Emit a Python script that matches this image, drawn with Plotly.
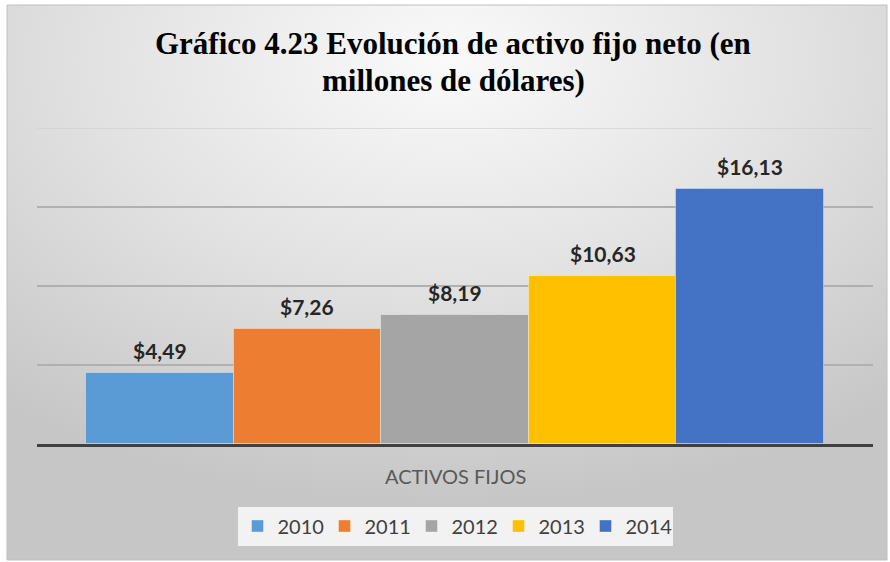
import base64
import plotly.graph_objects as go

# ---- data ----
years = ["2010", "2011", "2012", "2013", "2014"]
values = [4.49, 7.26, 8.19, 10.63, 16.13]
colors = ["#5B9BD5", "#ED7D31", "#A5A5A5", "#FFC000", "#4472C4"]
grid_values = [5, 10, 15, 20]
category_label = "ACTIVOS FIJOS"
title_lines = ["Gráfico 4.23 Evolución de activo fijo neto (en", "millones de dólares)"]

W, H = 890, 562
ML, MR, MT, MB = 37, 17, 128, 118
PW, PH = W - ML - MR, H - MT - MB


def px_x(px):
    return (px - ML) / PW


def px_y(py):
    return (H - MB - py) / PH


fig = go.Figure()
for yr, v, c in zip(years, values, colors):
    fig.add_trace(go.Bar(
        x=[yr], y=[v], name=yr,
        marker=dict(color=c, line=dict(color="rgba(255,255,255,0.35)", width=1)),
        width=1.0,
        hoverinfo="skip",
    ))

annotations = []
for i, v in enumerate(values):
    annotations.append(dict(
        x=i, y=v, xref="x", yref="y", text="<b>$" + f"{v:.2f}".replace(".", ",") + "</b>",
        showarrow=False, yanchor="bottom", yshift=8,
        font=dict(family="Lato", size=21, color="#262626"),
    ))

annotations.append(dict(
    x=0.5, y=px_y(476), xref="paper", yref="paper", text=category_label,
    showarrow=False, yanchor="middle", xanchor="center",
    font=dict(family="Lato", size=20, color="#595959"),
))
for line, py in zip(title_lines, [44, 80]):
    annotations.append(dict(
        x=px_x(453), y=px_y(py), xref="paper", yref="paper", text="<b>" + line + "</b>",
        showarrow=False, yanchor="middle", xanchor="center",
        font=dict(family="Liberation Serif, Times New Roman, serif", size=31, color="#000000"),
    ))

svg = """<svg xmlns='http://www.w3.org/2000/svg' width='880' height='555' preserveAspectRatio='none'>
<defs><radialGradient id='g' cx='0.5' cy='0.1' r='0.8' fx='0.5' fy='0.1'>
<stop offset='0' stop-color='#fafafa'/><stop offset='0.5' stop-color='#e2e2e2'/><stop offset='1' stop-color='#c6c6c6'/>
</radialGradient></defs><rect width='880' height='555' fill='url(#g)'/></svg>"""
src = "data:image/svg+xml;base64," + base64.b64encode(svg.encode()).decode()

x0, x1, y0, y1 = 7, 887, 5, 560
shapes = [dict(
    type="rect", xref="paper", yref="paper",
    x0=px_x(x0), x1=px_x(x1), y0=px_y(y1), y1=px_y(y0),
    line=dict(color="#BFBFBF", width=1), fillcolor="rgba(0,0,0,0)", layer="below",
), dict(
    type="line", xref="paper", yref="y", x0=0, x1=1, y0=max(grid_values), y1=max(grid_values),
    line=dict(color="#D2D2D2", width=1.5), layer="below",
)]

fig.update_layout(
    width=W, height=H,
    margin=dict(l=ML, r=MR, t=MT, b=MB),
    paper_bgcolor="white", plot_bgcolor="rgba(0,0,0,0)",
    barmode="overlay", bargap=0,
    showlegend=True,
    legend=dict(
        orientation="h", x=0.5, xanchor="center", y=px_y(526), yanchor="middle",
        bgcolor="#F2F2F2", font=dict(family="Lato", size=20, color="#404040"),
        entrywidth=42, itemwidth=30,
    ),
    xaxis=dict(
        type="category", range=[-0.832, 4.832], showticklabels=False, ticks="",
        showline=True, linecolor="#404040", linewidth=3, showgrid=False, fixedrange=True,
    ),
    yaxis=dict(
        range=[0, 20], tickvals=grid_values, showticklabels=False, ticks="", showgrid=True,
        gridcolor="#B0B0B0", gridwidth=1.5, zeroline=False, showline=False, fixedrange=True,
    ),
    annotations=annotations,
    images=[dict(
        source=src, xref="paper", yref="paper",
        x=px_x(x0), y=px_y(y0), sizex=(x1 - x0) / PW, sizey=(y1 - y0) / PH,
        xanchor="left", yanchor="top", sizing="stretch", layer="below",
    )],
    shapes=shapes,
)

fig.write_html(
    "out.html",
    config={"displayModeBar": False},
    post_script="document.body.style.margin='0';document.body.style.overflow='hidden';",
)
